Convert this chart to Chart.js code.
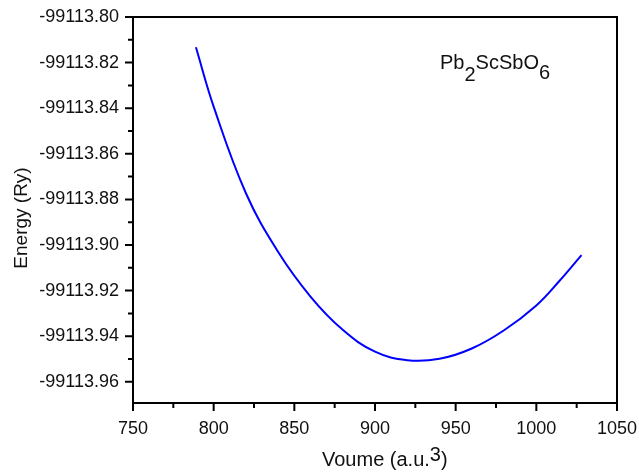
<!DOCTYPE html>
<html>
<head>
<meta charset="utf-8">
<script src="https://cdn.jsdelivr.net/npm/chart.js@4.4.1/dist/chart.umd.min.js"></script>
<style>
  html, body { margin: 0; padding: 0; background: #fff; }
  #wrap { width: 639px; height: 474px; }
</style>
</head>
<body>
<div id="wrap"><canvas id="eosChart" width="639" height="474"></canvas></div>
<script>
// Datos (volumen vs energia)
const volumes = [789, 800, 820, 840, 860, 880, 900, 920, 940, 960, 980, 1000, 1014, 1028];
const energies = [-99113.8133, -99113.8393, -99113.8773, -99113.9031, -99113.9226,
    -99113.9372, -99113.9468, -99113.9505, -99113.9499, -99113.9454, -99113.9374,
    -99113.9265, -99113.9160, -99113.9044];
const xTicks = [750, 800, 850, 900, 950, 1000, 1050];
const xMinor = [775, 825, 875, 925, 975, 1025];
const yTicks = [-99113.96, -99113.94, -99113.92, -99113.90, -99113.88, -99113.86, -99113.84, -99113.82, -99113.80];
const yMinor = [-99113.95, -99113.93, -99113.91, -99113.89, -99113.87, -99113.85, -99113.83, -99113.81];

const FONT = 'Liberation Sans, Arial, sans-serif';

// Marco, marcas de ejes y textos
const framePlugin = {
    id: 'frame',
    afterDraw(chart) {
        const ctx = chart.ctx;
        const a = chart.chartArea;
        const xs = chart.scales.x, ys = chart.scales.y;
        ctx.save();
        ctx.strokeStyle = '#000';
        ctx.lineWidth = 2;
        ctx.beginPath();
        xTicks.forEach(v => { const p = xs.getPixelForValue(v); ctx.moveTo(p, a.bottom); ctx.lineTo(p, a.bottom + 8); });
        xMinor.forEach(v => { const p = xs.getPixelForValue(v); ctx.moveTo(p, a.bottom); ctx.lineTo(p, a.bottom + 5); });
        yTicks.forEach(v => { const p = ys.getPixelForValue(v); ctx.moveTo(a.left, p); ctx.lineTo(a.left - 8, p); });
        yMinor.forEach(v => { const p = ys.getPixelForValue(v); ctx.moveTo(a.left, p); ctx.lineTo(a.left - 5, p); });
        ctx.stroke();
        ctx.strokeRect(a.left, a.top, a.right - a.left, a.bottom - a.top);

        ctx.fillStyle = '#111';
        ctx.textBaseline = 'alphabetic';
        ctx.textAlign = 'left';
        // etiqueta del compuesto
        ctx.font = '20px ' + FONT;
        let x = 440;
        const parts = [['Pb', 0], ['2', 12], ['ScSbO', 0], ['6', 10]];
        parts.forEach(([t, dy]) => { ctx.fillText(t, x, 69 + dy); x += ctx.measureText(t).width; });

        // titulo eje x
        ctx.font = '20px ' + FONT;
        x = 322;
        ctx.fillText('Voume (a.u.', x, 466);
        x += ctx.measureText('Voume (a.u.').width;
        ctx.fillText('3', x, 461);
        x += ctx.measureText('3').width;
        ctx.fillText(')', x, 466);

        // titulo eje y
        ctx.translate(27, 218);
        ctx.rotate(-Math.PI / 2);
        ctx.textAlign = 'center';
        ctx.font = '19px ' + FONT;
        ctx.fillText('Energy (Ry)', 0, 0);
        ctx.restore();
    }
};

const ctx = document.getElementById('eosChart').getContext('2d');
new Chart(ctx, {
    type: 'line',
    data: {
        datasets: [{
            data: volumes.map((v, i) => ({ x: v, y: energies[i] })),
            borderColor: '#0000ff',
            borderWidth: 2,
            pointRadius: 0,
            tension: 0.4,
            fill: false
        }]
    },
    options: {
        responsive: false,
        animation: false,
        layout: {
            padding: { left: 0, top: 17, right: 22, bottom: 0 }
        },
        plugins: {
            legend: { display: false },
            tooltip: { enabled: false }
        },
        scales: {
            x: {
                type: 'linear',
                min: 750,
                max: 1050,
                afterBuildTicks: s => { s.ticks = xTicks.map(v => ({ value: v })); },
                afterFit: s => { s.height = 71; s.paddingLeft = 0; s.paddingRight = 0; },
                grid: { display: false, drawTicks: false },
                border: { display: false },
                ticks: {
                    padding: 15,
                    color: '#111',
                    font: { family: FONT, size: 18 },
                    maxRotation: 0,
                    callback: v => String(v)
                }
            },
            y: {
                type: 'linear',
                min: -99113.9693,
                max: -99113.80,
                afterBuildTicks: s => { s.ticks = yTicks.map(v => ({ value: v })); },
                afterFit: s => { s.width = 133; s.paddingTop = 0; s.paddingBottom = 0; },
                grid: { display: false, drawTicks: false },
                border: { display: false },
                ticks: {
                    padding: 14,
                    color: '#111',
                    font: { family: FONT, size: 18 },
                    callback: v => v.toFixed(2)
                }
            }
        }
    },
    plugins: [framePlugin]
});
</script>
</body>
</html>
